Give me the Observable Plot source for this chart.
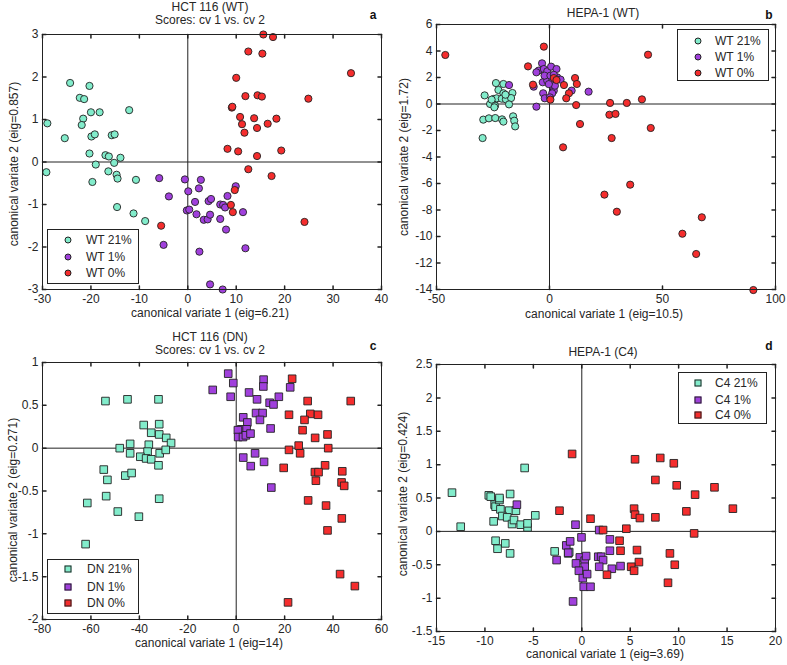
<!DOCTYPE html>
<html><head><meta charset="utf-8">
<script src="https://cdn.jsdelivr.net/npm/d3@7"></script>
<script src="https://cdn.jsdelivr.net/npm/@observablehq/plot@0.6"></script>
<style>
body{margin:0;background:#fff;}
#root{position:relative;width:787px;height:665px;overflow:hidden;font-family:Arial,"Liberation Sans",sans-serif;color:#262626;background:#fff}
.t{position:absolute;white-space:nowrap;font-size:12px;line-height:14px;transform:translate(-50%,-50%)}
.yl{position:absolute;white-space:nowrap;font-size:12px;line-height:14px;transform:translate(-50%,-50%) rotate(-90deg)}
.lt{position:absolute;white-space:nowrap;font-size:12px;line-height:14px;font-weight:bold;color:#111;transform:translate(-50%,-50%)}
.leg{position:absolute;border:1px solid #222;background:#fff;box-sizing:border-box}
.li{position:absolute;white-space:nowrap;font-size:12px;line-height:14px;transform:translateY(-50%)}
.mk{position:absolute;width:7px;height:7px;border:1px solid #222;box-sizing:border-box;transform:translate(-50%,-50%)}
.panel{position:absolute}
</style></head>
<body><div id="root"></div>
<script>
// ---------- data ----------
const colors = ["#82eccb", "#a040dc", "#f52d2d"];

// Panel a: HCT 116 (WT)
const a_wt21 = [[-29.0,0.91],[-24.3,1.86],[-25.4,0.56],[-29.2,-0.24],[-22.3,1.51],[-21.4,1.48],[-20.3,1.79],[-21.6,1.02],[-21.9,0.87],[-20.0,1.17],[-18.2,1.17],[-12.1,1.22],[-19.9,0.60],[-19.2,0.65],[-15.7,0.63],[-15.1,0.65],[-20.3,0.20],[-17.0,0.16],[-16.3,0.13],[-13.9,0.10],[-15.2,-0.02],[-19.0,-0.06],[-16.4,-0.22],[-14.7,-0.30],[-14.5,-0.39],[-19.7,-0.47],[-10.7,-0.42],[-14.6,-1.06],[-11.2,-1.21],[-8.8,-1.39]];
const a_wt1 = [[-5.9,-0.38],[-0.6,-0.41],[2.7,-0.42],[-3.9,-0.81],[0.1,-0.69],[2.3,-0.62],[1.5,-0.94],[4.3,-0.92],[4.8,-0.87],[8.2,-0.80],[9.9,-0.57],[-0.2,-1.14],[0.3,-1.12],[1.8,-1.23],[3.3,-1.36],[4.1,-1.35],[4.6,-1.24],[6.7,-1.00],[7.3,-1.01],[7.7,-1.07],[6.7,-1.34],[7.9,-1.59],[11.4,-1.18],[-5.0,-1.95],[2.4,-2.11],[11.9,-2.03],[4.6,-2.88],[7.2,-3.0]];
const a_wt0 = [[15.6,3.0],[17.6,2.94],[12.5,2.60],[15.4,2.55],[10.0,1.98],[33.7,2.09],[11.9,1.55],[14.4,1.57],[15.3,1.54],[24.9,1.49],[9.1,1.28],[9.2,1.30],[10.8,1.06],[13.7,1.03],[18.3,1.02],[11.2,0.89],[16.5,0.90],[14.3,0.80],[11.7,0.69],[8.2,0.31],[10.4,0.25],[14.3,0.14],[19.3,0.27],[12.5,-0.17],[17.3,-0.33],[9.7,-0.66],[8.9,-1.01],[9.3,-1.18],[24.1,-1.41],[-5.5,-1.50]];

// Panel b: HEPA-1 (WT)
const b_wt21 = [[-23.7,1.58],[-20.4,1.51],[-22.6,1.06],[-20.4,0.81],[-16.4,0.83],[-28.7,0.65],[-24.7,0.38],[-25.3,0.20],[-24.1,0.30],[-23.4,0.43],[-21.1,0.40],[-19.3,0.35],[-17.0,0.45],[-26.3,0.0],[-24.1,-0.13],[-17.9,-0.03],[-29.3,-1.18],[-26.8,-1.08],[-24.0,-1.06],[-21.0,-1.16],[-16.1,-0.93],[-15.6,-1.26],[-15.2,-1.69],[-29.6,-2.57],[-20.4,-1.33],[-25.6,0.33],[-24.4,-0.25],[-19.5,0.70]];
const b_wt1 = [[-17.9,1.43],[-3.3,3.07],[-4.8,2.52],[-5.8,2.39],[-2.5,2.64],[-1.0,2.47],[0.7,2.82],[3.1,2.64],[3.4,2.01],[4.9,1.84],[-3.0,1.64],[-1.0,1.76],[-2.8,0.81],[-2.1,0.43],[1.2,1.76],[1.5,1.26],[1.9,1.01],[1.2,0.81],[9.8,1.01],[17.3,0.93],[-5.8,-0.20],[-7.0,1.31],[-2.2,2.14],[0.4,2.14],[2.4,1.38],[-0.3,1.50],[1.9,2.20],[0.2,0.50]];
const b_wt0 = [[-46.1,3.70],[-2.5,4.33],[-9.5,2.84],[-7.3,1.46],[1.9,1.96],[11.3,1.96],[12.1,1.51],[6.4,1.43],[8.6,0.81],[7.4,0.43],[0.4,0.33],[11.8,-0.08],[26.8,0.08],[34.2,0.08],[40.9,0.35],[43.6,3.72],[26.5,-0.81],[29.2,-0.75],[13.5,-1.51],[44.8,-1.81],[27.5,-2.57],[6.0,-3.27],[24.3,-6.84],[35.7,-6.09],[29.8,-8.13],[67.4,-8.55],[58.8,-9.79],[64.9,-11.32],[90.2,-14.04],[3.1,1.81]];

// Panel c: HCT 116 (DN)
const c_dn21 = [[-54.0,0.55],[-44.9,0.57],[-32.1,0.57],[-38.2,0.27],[-31.8,0.28],[-35.1,0.18],[-31.8,0.16],[-28.9,0.12],[-26.9,0.06],[-43.8,0.05],[-36.1,0.04],[-48.1,0.0],[-36.6,-0.04],[-43.8,-0.06],[-39.6,-0.10],[-37.2,-0.12],[-35.1,-0.13],[-31.6,-0.06],[-29.1,-0.02],[-32.1,-0.20],[-54.7,-0.25],[-53.2,-0.37],[-45.8,-0.32],[-43.2,-0.29],[-53.7,-0.56],[-31.8,-0.59],[-48.9,-0.74],[-40.2,-0.80],[-61.5,-0.64],[-62.2,-1.12]];
const c_dn1 = [[-3.3,0.87],[-1.2,0.76],[-9.7,0.68],[-2.3,0.60],[11.3,0.80],[11.2,0.72],[5.3,0.65],[22.3,0.71],[8.6,0.57],[17.6,0.60],[13.8,0.53],[15.4,0.51],[8.2,0.41],[10.9,0.41],[2.9,0.36],[9.8,0.33],[4.6,0.30],[2.1,0.22],[4.3,0.22],[0.7,0.21],[0.8,0.13],[2.8,0.13],[4.0,0.15],[5.9,0.17],[14.2,0.23],[2.9,-0.11],[7.8,-0.06],[11.5,-0.16],[6.0,-0.21],[14.5,-0.46]];
const c_dn0 = [[23.1,0.81],[29.5,0.55],[47.3,0.55],[21.8,0.39],[30.6,0.40],[33.8,0.39],[28.2,0.33],[27.4,0.21],[32.6,0.12],[37.7,0.16],[25.8,0.03],[21.8,-0.02],[26.4,-0.06],[38.0,0.0],[19.6,-0.23],[36.7,-0.20],[32.5,-0.28],[34.0,-0.28],[32.9,-0.38],[43.8,-0.27],[43.5,-0.40],[44.6,-0.44],[29.7,-0.61],[37.1,-0.67],[43.6,-0.82],[37.7,-0.96],[42.9,-1.47],[49.0,-1.61],[21.4,-1.80]];

// Panel d: HEPA-1 (C4)
const d_c421 = [[-13.4,0.58],[-12.5,0.07],[-9.6,0.54],[-9.4,0.52],[-9.0,0.40],[-8.9,0.37],[-8.5,0.47],[-8.5,0.50],[-8.4,0.33],[-7.4,0.56],[-7.5,0.31],[-6.8,0.31],[-8.2,0.23],[-7.7,0.21],[-7.2,0.11],[-7.0,0.17],[-9.1,0.15],[-6.3,0.10],[-5.6,0.06],[-5.6,0.12],[-4.8,0.24],[-5.9,0.95],[-8.9,-0.14],[-8.7,-0.26],[-7.9,-0.18],[-7.4,-0.33],[-2.8,-0.30],[-1.4,-0.33],[-1.3,-0.31]];
const d_c41 = [[-6.7,0.40],[-0.65,0.10],[-2.6,-0.43],[-1.6,-0.21],[-1.2,-0.15],[-1.4,-0.32],[-0.03,-0.09],[-0.2,-0.39],[-0.6,-0.48],[0.3,-0.44],[0.45,-0.37],[0.3,-0.53],[-0.3,-0.59],[0.1,-0.70],[0.55,-0.64],[0.2,-0.83],[0.9,-0.83],[-0.9,-1.05],[1.8,0.02],[2.9,-0.12],[2.9,-0.29],[1.7,-0.38],[2.0,-0.38],[2.2,-0.43],[1.8,-0.53],[3.1,-0.56],[4.0,-0.52]];
const d_c40 = [[-1.0,1.16],[5.5,1.08],[8.1,1.10],[9.5,1.02],[7.6,0.77],[9.8,0.69],[13.7,0.66],[11.7,0.55],[15.6,0.34],[5.4,0.34],[5.5,0.25],[6.0,0.20],[7.6,0.21],[10.8,0.30],[-2.3,0.31],[0.9,0.19],[2.2,0.02],[4.6,0.04],[11.6,-0.03],[3.9,-0.14],[4.0,-0.29],[5.7,-0.28],[5.9,-0.46],[5.1,-0.53],[5.4,-0.59],[2.6,-0.65],[9.1,-0.33],[9.6,-0.50],[8.9,-0.77]];

// ticks
const a_xticks = [-30,-20,-10,0,10,20,30,40], a_yticks = [-3,-2,-1,0,1,2,3];
const b_xticks = [-50,0,50,100], b_yticks = [-14,-12,-10,-8,-6,-4,-2,0,2,4,6];
const c_xticks = [-80,-60,-40,-20,0,20,40,60], c_yticks = [-2,-1.5,-1,-0.5,0,0.5,1];
const d_xticks = [-15,-10,-5,0,5,10,15,20], d_yticks = [-1.5,-1,-0.5,0,0.5,1,1.5,2,2.5];

// text
const a_labels = ["WT 21%","WT 1%","WT 0%"], b_labels = ["WT 21%","WT 1%","WT 0%"];
const c_labels = ["DN 21%","DN 1%","DN 0%"], d_labels = ["C4 21%","C4 1%","C4 0%"];

// ---------- layout ----------
const panels = [
  {id:"a", left:0, top:0, w:393, h:330, ml:42, mr:12, mt:34, mb:41, xd:[-30,40], yd:[-3,3], xt:a_xticks, yt:a_yticks,
   series:[a_wt21,a_wt1,a_wt0], labels:a_labels, symbol:"circle",
   titles:[["HCT 116 (WT)",210,7],["Scores: cv 1 vs. cv 2",210,20]], letter:[373,15],
   xlabel:["canonical variate 1 (eig=6.21)",210,313], ylabel:["canonical variate 2 (eig=0.857)",14,164],
   legend:{x:47,y:229,w:92,h:55,mx:68,tx:86,rows:[240,256.5,273]}},
  {id:"b", left:393, top:0, w:394, h:330, ml:43, mr:12, mt:24, mb:41, xd:[-50,100], yd:[-14,6], xt:b_xticks, yt:b_yticks,
   series:[b_wt21,b_wt1,b_wt0], labels:b_labels, symbol:"circle",
   titles:[["HEPA-1 (WT)",603,13]], letter:[769,15],
   xlabel:["canonical variate 1 (eig=10.5)",604,314], ylabel:["canonical variate 2 (eig=1.72)",404,157],
   legend:{x:677,y:29,w:92,h:52,mx:698,tx:715,rows:[40.5,57,72.5]}},
  {id:"c", left:0, top:330, w:393, h:335, ml:42, mr:12, mt:32, mb:46, xd:[-80,60], yd:[-2,1], xt:c_xticks, yt:c_yticks,
   series:[c_dn21,c_dn1,c_dn0], labels:c_labels, symbol:"square",
   titles:[["HCT 116 (DN)",210,337],["Scores: cv 1 vs. cv 2",210,350]], letter:[373,346],
   xlabel:["canonical variate 1 (eig=14)",209,643], ylabel:["canonical variate 2 (eig=0.271)",13,500],
   legend:{x:47,y:559,w:92,h:55,mx:68,tx:87,rows:[569,586.5,603]}},
  {id:"d", left:393, top:330, w:394, h:335, ml:43, mr:12, mt:34, mb:34, xd:[-15,20], yd:[-1.5,2.5], xt:d_xticks, yt:d_yticks,
   series:[d_c421,d_c41,d_c40], labels:d_labels, symbol:"square",
   titles:[["HEPA-1 (C4)",603,352]], letter:[769,346],
   xlabel:["canonical variate 1 (eig=3.69)",605,654], ylabel:["canonical variate 2 (eig=0.424)",403,494],
   legend:{x:678,y:372,w:89,h:52,mx:698,tx:715,rows:[383,399.5,415]}}
];

const root = document.getElementById("root");
const tickShape = {draw(ctx, l) { ctx.moveTo(0, 0); ctx.lineTo(0, -l); }};
const fmt = d => String(d);
const ink = "#222";

function addDiv(cls, text, x, y) {
  const el = document.createElement("div");
  el.className = cls; el.textContent = text;
  el.style.left = x + "px"; el.style.top = y + "px";
  root.appendChild(el); return el;
}

for (const p of panels) {
  const data = p.series.flatMap((s, k) => s.map(([x, y]) => ({x, y, k})));
  const [x0, x1] = p.xd, [y0, y1] = p.yd;
  const tl = 3.5;
  const r = p.symbol === "circle" ? 3.6 : 4.3;
  const svg = Plot.plot({
    width: p.w, height: p.h,
    marginLeft: p.ml, marginRight: p.mr, marginTop: p.mt, marginBottom: p.mb,
    x: {domain: p.xd, label: null},
    y: {domain: p.yd, label: null},
    color: {type: "ordinal", domain: [0, 1, 2], range: colors},
    style: {fontFamily: "Arial, 'Liberation Sans', sans-serif", fontSize: "12px", color: "#262626", background: "transparent", overflow: "visible"},
    marks: [
      Plot.ruleX([0], {stroke: ink, strokeWidth: 1}),
      Plot.ruleY([0], {stroke: ink, strokeWidth: 1}),
      Plot.dot(data, {x: "x", y: "y", r, symbol: p.symbol, fill: "k", stroke: ink, strokeWidth: 0.9}),
      Plot.frame({stroke: ink, strokeWidth: 1}),
      Plot.vector(p.xt, {x: d => d, y: () => y0, length: tl, rotate: 0, anchor: "start", shape: tickShape, stroke: ink}),
      Plot.vector(p.xt, {x: d => d, y: () => y1, length: tl, rotate: 180, anchor: "start", shape: tickShape, stroke: ink}),
      Plot.vector(p.yt, {y: d => d, x: () => x0, length: tl, rotate: 90, anchor: "start", shape: tickShape, stroke: ink}),
      Plot.vector(p.yt, {y: d => d, x: () => x1, length: tl, rotate: 270, anchor: "start", shape: tickShape, stroke: ink}),
      Plot.axisX(p.xt, {tickSize: 0, tickPadding: 5, tickFormat: fmt, fontSize: 12, label: null}),
      Plot.axisY(p.yt, {tickSize: 0, tickPadding: 4, tickFormat: fmt, fontSize: 12, label: null})
    ]
  });
  const wrap = document.createElement("div");
  wrap.className = "panel";
  wrap.style.left = p.left + "px"; wrap.style.top = p.top + "px";
  wrap.appendChild(svg);
  root.appendChild(wrap);

  for (const [t, x, y] of p.titles) addDiv("t", t, x, y);
  addDiv("lt", p.id, p.letter[0], p.letter[1]);
  addDiv("t", p.xlabel[0], p.xlabel[1], p.xlabel[2]);
  addDiv("yl", p.ylabel[0], p.ylabel[1], p.ylabel[2]);

  const L = p.legend;
  const box = document.createElement("div");
  box.className = "leg";
  Object.assign(box.style, {left: L.x + "px", top: L.y + "px", width: L.w + "px", height: L.h + "px"});
  root.appendChild(box);
  p.labels.forEach((lab, k) => {
    const m = document.createElement("div");
    m.className = "mk";
    Object.assign(m.style, {left: L.mx + "px", top: L.rows[k] + "px", background: colors[k], borderRadius: p.symbol === "circle" ? "50%" : "0"});
    root.appendChild(m);
    addDiv("li", lab, L.tx, L.rows[k]);
  });
}
</script></body></html>
